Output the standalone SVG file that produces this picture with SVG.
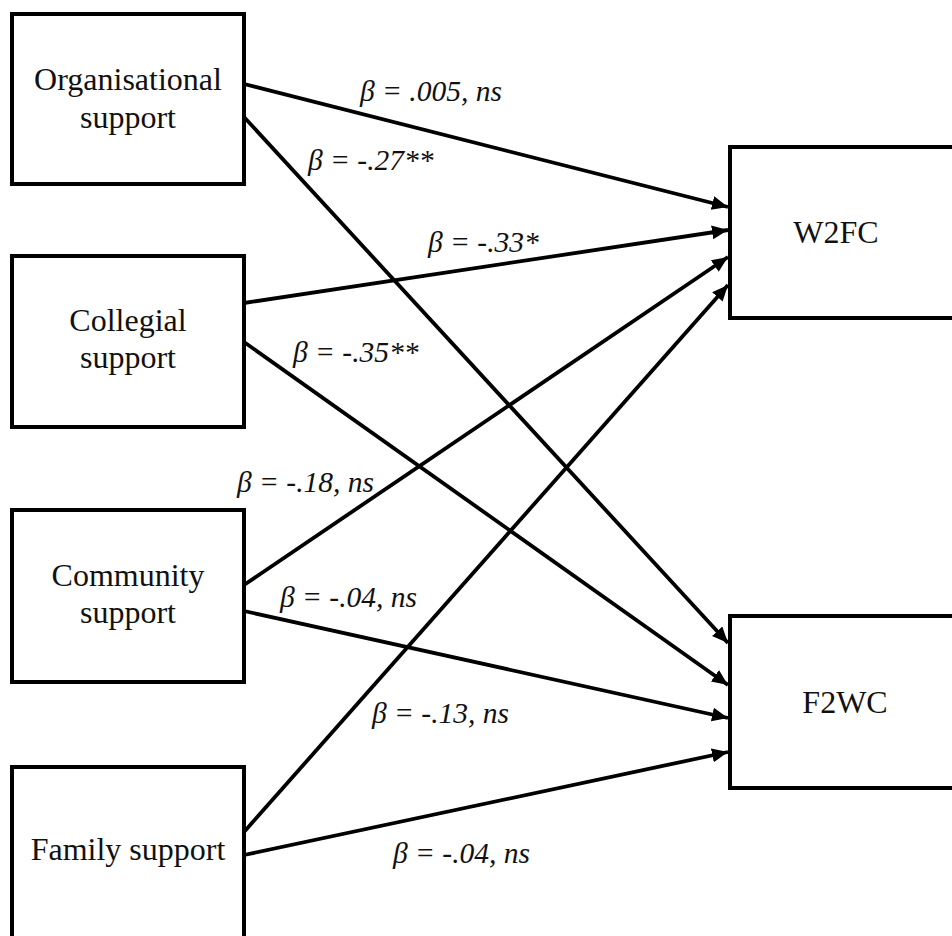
<svg xmlns="http://www.w3.org/2000/svg" width="952" height="936" viewBox="0 0 952 936">
  <style>
    .box { fill: #fff; stroke: #000; stroke-width: 4; }
    .name { font-family: "Liberation Serif", "Times New Roman", serif; font-size: 32px; fill: #111; text-anchor: middle; }
    .path { stroke: #000; stroke-width: 3.8; fill: none; marker-end: url(#head); }
    .beta { font-family: "Liberation Serif", "Times New Roman", serif; font-size: 29.5px; font-style: italic; fill: #111; }
  </style>
  <defs>
    <marker id="head" markerUnits="userSpaceOnUse" markerWidth="18" markerHeight="16" refX="16" refY="7" orient="auto">
      <path d="M0,0 L16,7 L0,14 Z" fill="#000"/>
    </marker>
  </defs>
  <rect width="952" height="936" fill="#fff"/>

  <!-- predictors -->
  <g id="organisational">
    <rect class="box" x="12" y="14" width="232" height="170"/>
    <text class="name" x="128" y="90">Organisational</text>
    <text class="name" x="128" y="128">support</text>
  </g>
  <g id="collegial">
    <rect class="box" x="12" y="256" width="232" height="171"/>
    <text class="name" x="128" y="331">Collegial</text>
    <text class="name" x="128" y="368">support</text>
  </g>
  <g id="community">
    <rect class="box" x="12" y="510" width="232" height="172"/>
    <text class="name" x="128" y="586">Community</text>
    <text class="name" x="128" y="623">support</text>
  </g>
  <g id="family">
    <rect class="box" x="12" y="767" width="232" height="172"/>
    <text class="name" x="128" y="860">Family support</text>
  </g>

  <!-- outcomes -->
  <g id="w2fc">
    <rect class="box" x="730" y="147" width="240" height="171"/>
    <text class="name" x="836" y="243">W2FC</text>
  </g>
  <g id="f2wc">
    <rect class="box" x="730" y="616" width="240" height="172"/>
    <text class="name" x="845" y="713">F2WC</text>
  </g>

  <!-- paths -->
  <g id="connectors">
    <line class="path" x1="244" y1="84" x2="728" y2="207"/>
    <line class="path" x1="244" y1="117" x2="728" y2="643"/>
    <line class="path" x1="244" y1="303" x2="728" y2="230"/>
    <line class="path" x1="244" y1="342" x2="728" y2="685"/>
    <line class="path" x1="244" y1="585" x2="728" y2="257"/>
    <line class="path" x1="244" y1="611" x2="728" y2="718"/>
    <line class="path" x1="244" y1="832" x2="728" y2="285"/>
    <line class="path" x1="244" y1="855" x2="728" y2="752"/>
  </g>

  <!-- coefficients -->
  <g id="labels">
    <text class="beta" x="360" y="101">β = .005, ns</text>
    <text class="beta" x="308" y="170">β = -.27**</text>
    <text class="beta" x="428" y="252">β = -.33*</text>
    <text class="beta" x="293" y="362">β = -.35**</text>
    <text class="beta" x="237" y="492">β = -.18, ns</text>
    <text class="beta" x="280" y="607">β = -.04, ns</text>
    <text class="beta" x="372" y="723">β = -.13, ns</text>
    <text class="beta" x="393" y="863">β = -.04, ns</text>
  </g>
</svg>
